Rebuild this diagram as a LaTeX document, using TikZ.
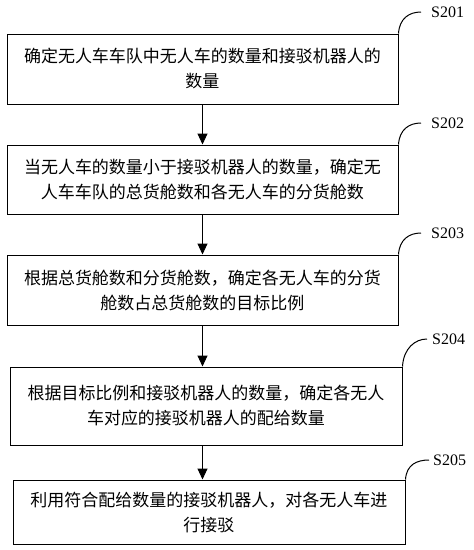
\documentclass[tikz,border=0pt]{standalone}
\usepackage{fontspec}
\setmainfont{Liberation Serif}
\newfontfamily\cjk{Noto Sans CJK SC}
\usetikzlibrary{arrows.meta}
\begin{document}
\begin{tikzpicture}[x=1pt,y=-1pt,
  stepbox/.style={draw,line width=1pt,rectangle,inner sep=0pt,align=center,
    font=\cjk\fontsize{17}{25}\selectfont},
  flow/.style={line width=1pt,-{Triangle[length=11pt,width=10pt]}},
  lab/.style={anchor=west,inner sep=0pt,font=\fontsize{16}{18}\selectfont},
  hook/.style={line width=1pt}]
\useasboundingbox (0,0) rectangle (474,550);
\node[stepbox,minimum width=391pt,minimum height=70pt] (b1) at (202.5,69)
  {确定无人车车队中无人车的数量和接驳机器人的\\数量};
\node[stepbox,minimum width=391pt,minimum height=69pt] (b2) at (202.5,179.5)
  {当无人车的数量小于接驳机器人的数量，确定无\\人车车队的总货舱数和各无人车的分货舱数};
\node[stepbox,minimum width=391pt,minimum height=70pt] (b3) at (202.5,290)
  {根据总货舱数和分货舱数，确定各无人车的分货\\舱数占总货舱数的目标比例};
\node[stepbox,minimum width=392pt,minimum height=78pt] (b4) at (206,406)
  {根据目标比例和接驳机器人的数量，确定各无人\\车对应的接驳机器人的配给数量};
\node[stepbox,minimum width=392pt,minimum height=64pt] (b5) at (209,512)
  {利用符合配给数量的接驳机器人，对各无人车进\\行接驳};
\draw[flow] (b1.south) -- (b1.south |- b2.north);
\draw[flow] (b2.south) -- (b2.south |- b3.north);
\draw[flow] (b3.south) -- (b3.south |- b4.north);
\draw[flow] (b3.south |- b4.south) -- (b3.south |- b5.north);
\node[lab] (l1) at (431,12) {S201};
\node[lab] (l2) at (431,123) {S202};
\node[lab] (l3) at (431,233) {S203};
\node[lab] (l4) at (432,339) {S204};
\node[lab] (l5) at (433,460) {S205};
\coordinate (e1) at ([xshift=-10pt]l1.west);
\coordinate (e2) at ([xshift=-10pt]l2.west);
\coordinate (e3) at ([xshift=-10pt]l3.west);
\coordinate (e4) at ([xshift=-5pt]l4.west);
\coordinate (e5) at ([xshift=-4pt]l5.west);
\draw[hook] (b1.north east) .. controls +(1,-15) and +(-12,0) .. (e1);
\draw[hook] (b2.north east) .. controls +(1,-15) and +(-12,0) .. (e2);
\draw[hook] (b3.north east) .. controls +(1,-15) and +(-12,0) .. (e3);
\draw[hook] (b4.north east) .. controls +(1,-18) and +(-12,0) .. (e4);
\draw[hook] (b5.north east) .. controls +(1,-15) and +(-12,0) .. (e5);
\end{tikzpicture}
\end{document}
